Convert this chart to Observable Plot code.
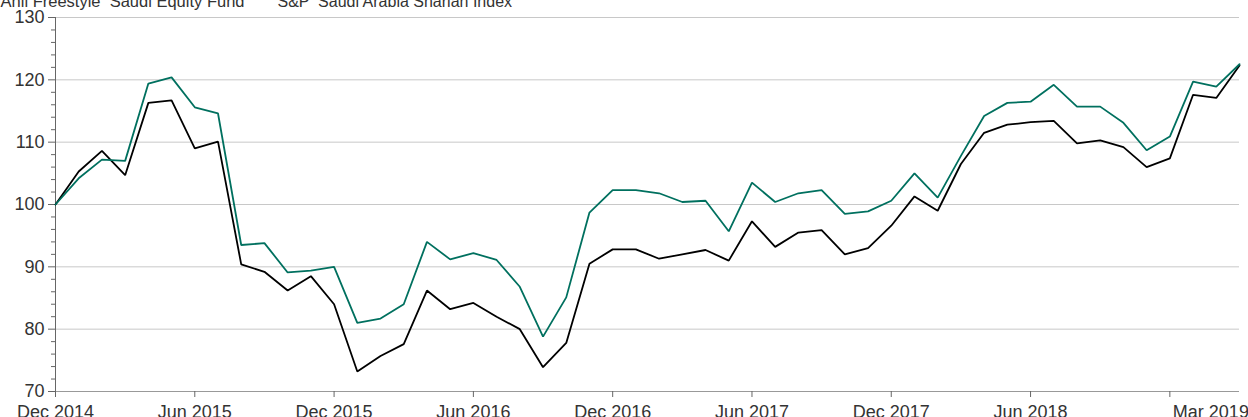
<!DOCTYPE html>
<html>
<head>
<meta charset="utf-8">
<script src="https://cdn.jsdelivr.net/npm/d3@7"></script>
<script src="https://cdn.jsdelivr.net/npm/@observablehq/plot@0.6"></script>
<style>
  html, body { margin: 0; padding: 0; background: #fff; }
  #chart { width: 1248px; height: 417px; overflow: hidden; }
</style>
</head>
<body>
<div id="chart"></div>
<script>
const months = [
  "2014-12","2015-01","2015-02","2015-03","2015-04","2015-05","2015-06","2015-07","2015-08","2015-09","2015-10","2015-11",
  "2015-12","2016-01","2016-02","2016-03","2016-04","2016-05","2016-06","2016-07","2016-08","2016-09","2016-10","2016-11",
  "2016-12","2017-01","2017-02","2017-03","2017-04","2017-05","2017-06","2017-07","2017-08","2017-09","2017-10","2017-11",
  "2017-12","2018-01","2018-02","2018-03","2018-04","2018-05","2018-06","2018-07","2018-08","2018-09","2018-10","2018-11",
  "2018-12","2019-01","2019-02","2019-03"
];

const fundName = "Ahli Freestyle  Saudi Equity Fund";
const indexName = "S&P  Saudi Arabia Shariah Index";

const fundValues = [
  100, 104.2, 107.2, 107.0, 119.4, 120.4, 115.6, 114.6, 93.5, 93.8, 89.1, 89.4,
  90.0, 81.0, 81.7, 84.0, 94.0, 91.2, 92.2, 91.1, 86.8, 78.8, 85.1, 98.7,
  102.3, 102.3, 101.8, 100.4, 100.6, 95.7, 103.5, 100.4, 101.8, 102.3, 98.5, 98.9,
  100.6, 105.0, 101.1, 107.8, 114.2, 116.3, 116.5, 119.2, 115.7, 115.7, 113.1, 108.7,
  110.9, 119.7, 118.9, 122.5
];

const indexValues = [
  100, 105.3, 108.6, 104.7, 116.3, 116.7, 109.0, 110.1, 90.4, 89.2, 86.2, 88.5,
  84.0, 73.2, 75.7, 77.6, 86.2, 83.2, 84.2, 82.0, 80.0, 73.9, 77.8, 90.5,
  92.8, 92.8, 91.3, 92.0, 92.7, 91.0, 97.3, 93.2, 95.5, 95.9, 92.0, 93.0,
  96.6, 101.3, 99.0, 106.5, 111.5, 112.8, 113.2, 113.4, 109.8, 110.3, 109.2, 106.0,
  107.4, 117.6, 117.1, 122.3
];

const tickMonths = ["2014-12","2015-06","2015-12","2016-06","2016-12","2017-06","2017-12","2018-06","2018-12"];
const tickLabels = ["Dec 2014","Jun 2015","Dec 2015","Jun 2016","Dec 2016","Jun 2017","Dec 2017","Jun 2018","Mar 2019"];
const yTicks = [70, 80, 90, 100, 110, 120, 130];
const yMinorTicks = [72,74,76,78,82,84,86,88,92,94,96,98,102,104,106,108,112,114,116,118,122,124,126,128];

const fundColor = "#00705f";
const indexColor = "#000000";
const textColor = "#333333";
const font = "'Liberation Sans', Arial, sans-serif";

const fundData = months.map((m, i) => ({i, v: fundValues[i]}));
const indexData = months.map((m, i) => ({i, v: indexValues[i]}));
const tickData = tickMonths.map((m, k) => ({i: months.indexOf(m), label: tickLabels[k]}));
const midTicks = tickData.slice(0, -1);
const lastTick = tickData.slice(-1);

const chart = Plot.plot({
  width: 1248,
  height: 417,
  marginLeft: 55,
  marginRight: 9,
  marginTop: 17,
  marginBottom: 26,
  style: {fontFamily: font, background: "#fff", overflow: "hidden"},
  x: {type: "linear", domain: [0, months.length - 1], axis: null, label: null},
  y: {domain: [70, 130], axis: null, label: null},
  marks: [
    Plot.gridY(yTicks.filter(t => t > 70), {stroke: "#c8c8c8", strokeOpacity: 1, strokeWidth: 1}),
    Plot.ruleY([70], {stroke: "#999999", strokeWidth: 1}),
    Plot.ruleX([0], {y1: 70, y2: 130, stroke: "#666666", strokeWidth: 1}),
    Plot.axisY(yMinorTicks, {anchor: "left", tickSize: 4, text: null, label: null, stroke: "#666666"}),
    Plot.axisY(yTicks, {anchor: "left", tickSize: 7, tickPadding: 4, fontSize: 18, fill: textColor, stroke: "#666666", label: null, tickFormat: d => String(d)}),
    Plot.axisX(tickData.map(d => d.i), {anchor: "bottom", tickSize: 6, text: null, label: null, stroke: "#666666"}),
    Plot.text(midTicks, {x: "i", text: "label", frameAnchor: "bottom", lineAnchor: "top", dy: 14, fontSize: 18, fill: textColor, textAnchor: "middle"}),
    Plot.text(lastTick, {x: "i", text: "label", frameAnchor: "bottom", lineAnchor: "top", dy: 14, dx: 3, fontSize: 18, fill: textColor, textAnchor: "start"}),
    Plot.line(indexData, {x: "i", y: "v", stroke: indexColor, strokeWidth: 1.8, strokeLinejoin: "miter"}),
    Plot.line(fundData, {x: "i", y: "v", stroke: fundColor, strokeWidth: 1.8, strokeLinejoin: "miter"}),
    Plot.text([fundName], {text: d => d, frameAnchor: "top-left", textAnchor: "end", lineAnchor: "bottom", dx: 189, dy: -11, fontSize: 16.5, fill: textColor}),
    Plot.text([indexName], {text: d => d, frameAnchor: "top-left", textAnchor: "start", lineAnchor: "bottom", dx: 222, dy: -11, fontSize: 16, fill: textColor})
  ]
});
document.getElementById("chart").appendChild(chart);
</script>
</body>
</html>
